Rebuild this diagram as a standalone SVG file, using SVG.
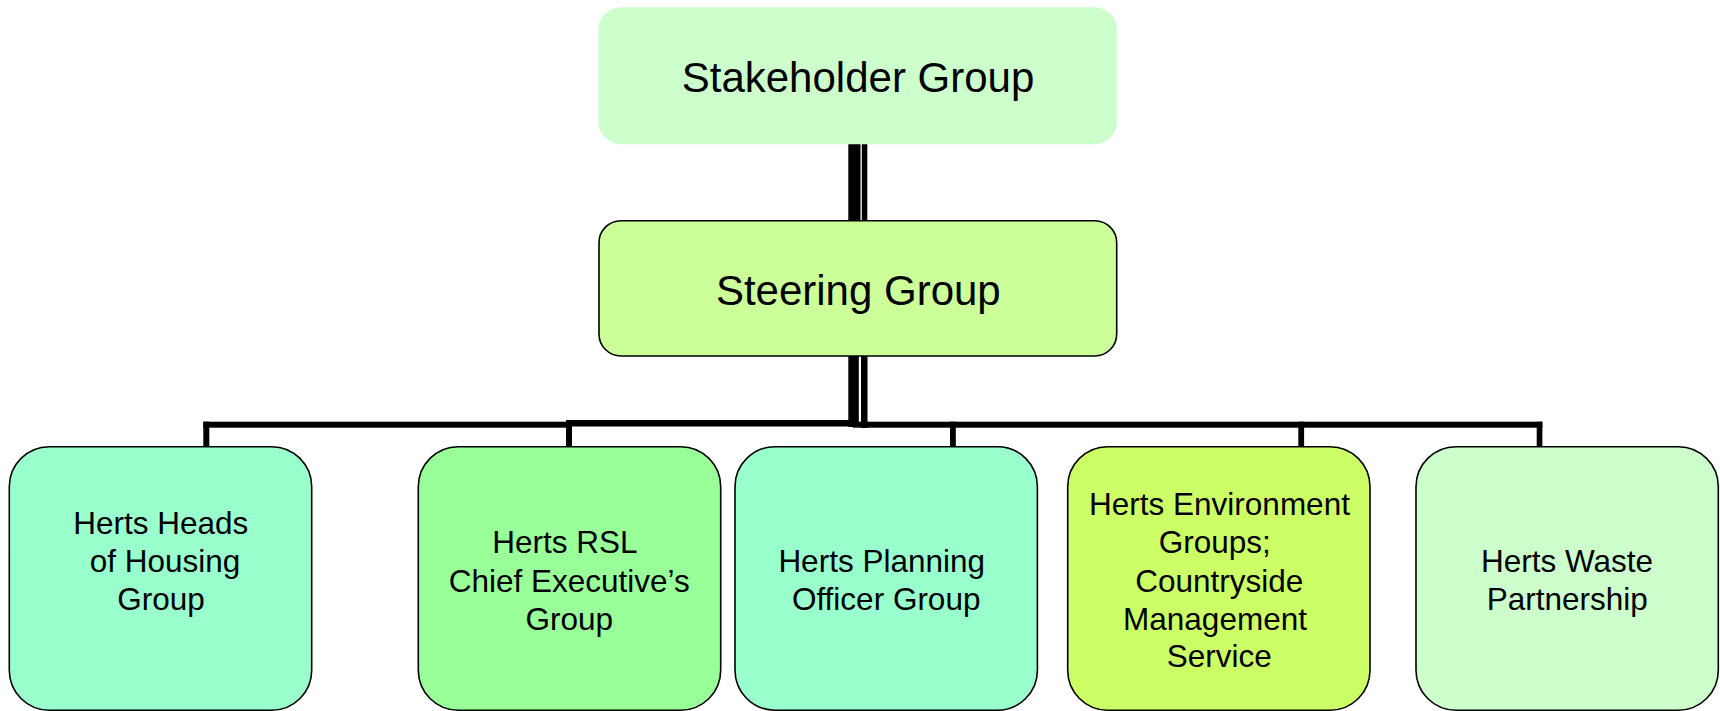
<svg xmlns="http://www.w3.org/2000/svg" width="1720" height="711" viewBox="0 0 1720 711">
<style>
.node{stroke:#000;stroke-width:1.6}
.t{font-family:"Liberation Sans",Arial,sans-serif;fill:#000;text-anchor:middle}
.big{font-size:42px}
.small{font-size:31.5px}
.c{fill:#000}
</style>
<rect width="1720" height="711" fill="#fff"/>
<g id="connectors">
<rect class="c" x="848.3" y="144" width="12.2" height="77"/>
<rect class="c" x="861.8" y="144" width="5.5" height="77"/>
<rect class="c" x="848.3" y="356" width="10.5" height="71"/>
<rect class="c" x="861" y="356" width="6.5" height="72"/>
<rect class="c" x="203.3" y="421.7" width="363" height="6"/>
<rect class="c" x="566" y="420" width="288" height="6.5"/>
<rect class="c" x="853" y="421.7" width="689.3" height="6"/>
<rect class="c" x="203.3" y="421.7" width="6" height="25.5"/>
<rect class="c" x="566" y="420" width="6" height="27"/>
<rect class="c" x="950" y="421.7" width="5.8" height="25.5"/>
<rect class="c" x="1298.3" y="421.7" width="5.8" height="25.5"/>
<rect class="c" x="1536.7" y="421.7" width="5.7" height="25.5"/>
</g>
<g id="stakeholder">
<rect x="598.3" y="7.3" width="519" height="137" rx="23" fill="#CCFFCC"/>
<text class="t big" x="858" y="92.3">Stakeholder Group</text>
</g>
<g id="steering">
<rect class="node" x="599" y="220.7" width="517.7" height="135.3" rx="22" fill="#CCFF99"/>
<text class="t big" x="858.3" y="305">Steering Group</text>
</g>
<g id="housing">
<rect class="node" x="9.3" y="446.7" width="302.4" height="263.5" rx="40" fill="#99FFCC"/>
<text class="t small"><tspan x="160.8" y="534">Herts Heads</tspan><tspan x="165" y="571.7">of Housing</tspan><tspan x="161" y="610">Group</tspan></text>
</g>
<g id="rsl">
<rect class="node" x="418.3" y="446.7" width="302.4" height="263.5" rx="40" fill="#99FF99"/>
<text class="t small"><tspan x="565" y="553.3">Herts RSL</tspan><tspan x="569.3" y="591.7">Chief Executive’s</tspan><tspan x="569.3" y="630">Group</tspan></text>
</g>
<g id="planning">
<rect class="node" x="735" y="446.7" width="302.4" height="263.5" rx="40" fill="#99FFCC"/>
<text class="t small"><tspan x="881.7" y="571.7">Herts Planning</tspan><tspan x="886.2" y="610">Officer Group</tspan></text>
</g>
<g id="environment">
<rect class="node" x="1067.7" y="446.7" width="302.3" height="263.5" rx="40" fill="#CCFF66"/>
<text class="t small"><tspan x="1219.5" y="515">Herts Environment</tspan><tspan x="1214.7" y="553.3">Groups;</tspan><tspan x="1219.2" y="591.7">Countryside</tspan><tspan x="1215" y="630">Management</tspan><tspan x="1219.2" y="667.3">Service</tspan></text>
</g>
<g id="waste">
<rect class="node" x="1416" y="446.7" width="302.3" height="263.5" rx="40" fill="#CCFFCC"/>
<text class="t small"><tspan x="1567" y="571.7">Herts Waste</tspan><tspan x="1567.2" y="610">Partnership</tspan></text>
</g>
</svg>
